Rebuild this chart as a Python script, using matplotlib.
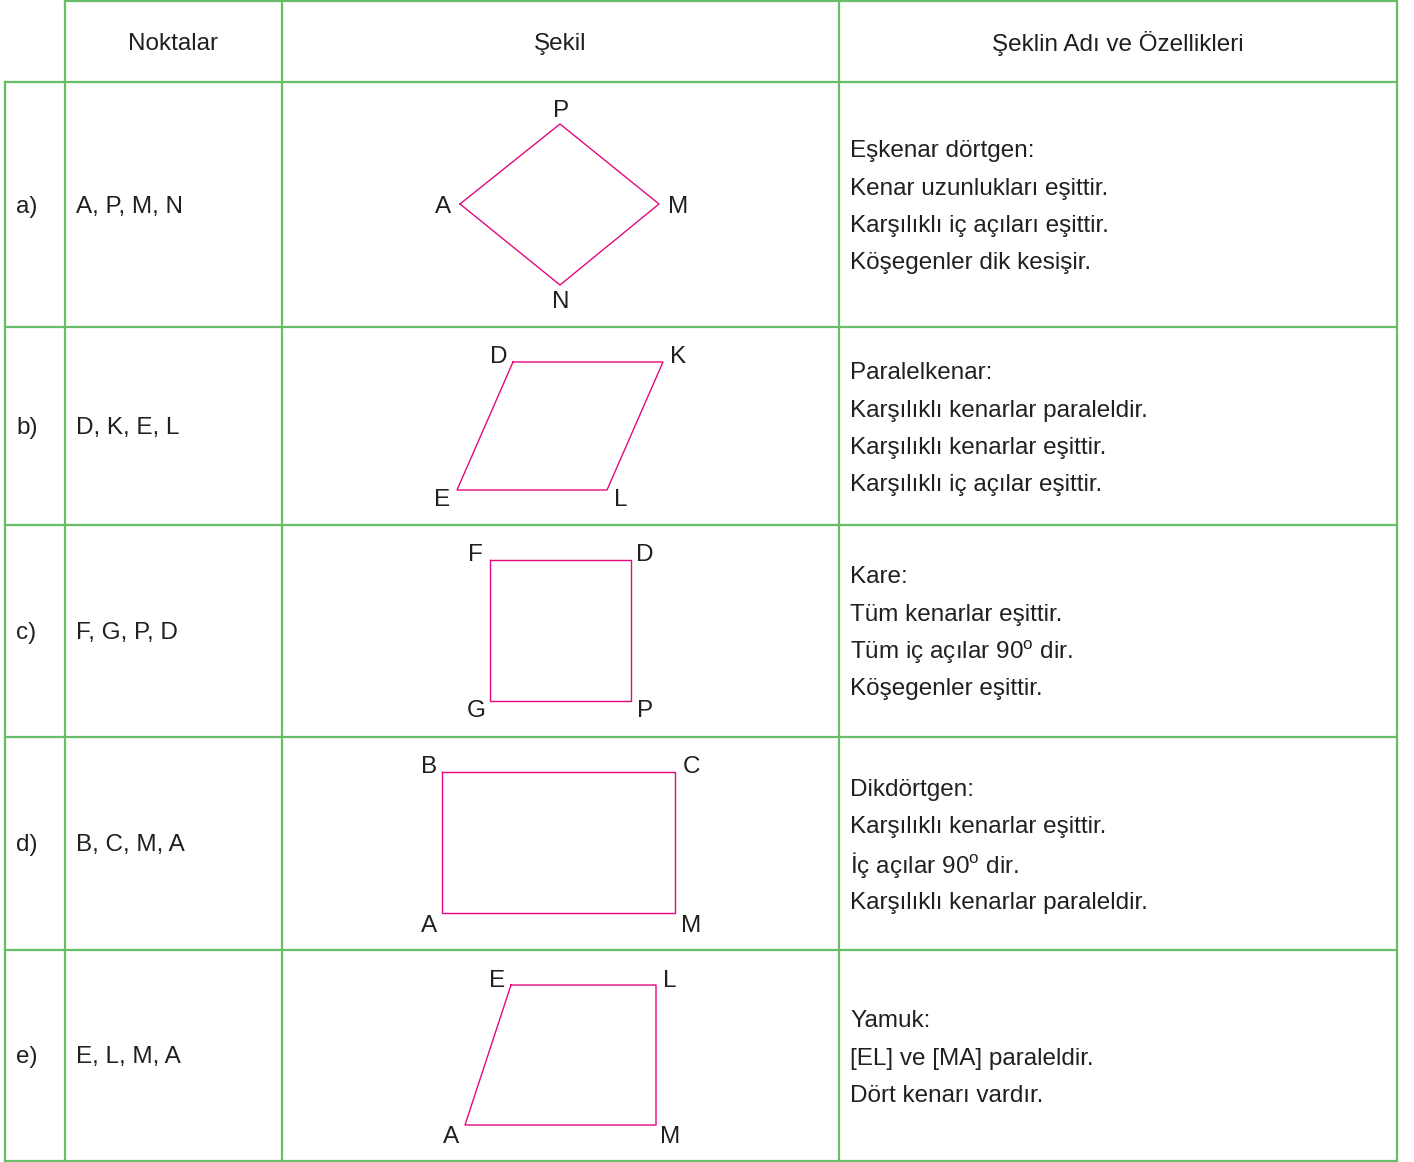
import matplotlib.pyplot as plt
import numpy as np

plt.rcParams['font.family'] = ['Liberation Sans', 'DejaVu Sans']
plt.rcParams['mathtext.fontset'] = 'custom'
plt.rcParams['mathtext.rm'] = 'Liberation Sans'

W, H = 1414, 1162
green = '#66bf66'
pink = '#e5087e'
ink = '#231f20'
fs = 17.5
dy = 2  # small nudge so glyphs sit like the reference

headers = ['Noktalar', 'Şekil', 'Şeklin Adı ve Özellikleri']
row_labels = ['a)', 'b)', 'c)', 'd)', 'e)']
point_lists = ['A, P, M, N', 'D, K, E, L', 'F, G, P, D', 'B, C, M, A', 'E, L, M, A']

# shape vertices and their letters (pixel coords of the page)
shapes = [
    [(460, 204), (560, 124), (659, 204), (560, 285)],
    [(513, 362), (663, 362), (607, 490), (457, 490)],
    [(490, 560), (631, 560), (631, 701), (490, 701)],
    [(442, 772), (675, 772), (675, 913), (442, 913)],
    [(511, 985), (656, 985), (656, 1125), (465, 1125)],
]
shape_letters = [
    [('A', 443, 205), ('P', 561, 109), ('M', 678, 205), ('N', 561, 300)],
    [('D', 499, 355), ('K', 678, 355), ('L', 621, 498), ('E', 442, 498)],
    [('F', 475, 553), ('D', 645, 553), ('P', 645, 709), ('G', 476, 709)],
    [('B', 429, 765), ('C', 691, 765), ('M', 691, 924), ('A', 429, 924)],
    [('E', 497, 979), ('L', 670, 979), ('M', 670, 1135), ('A', 451, 1135)],
]
sup = r'$^{\mathregular{o}}$'
descriptions = [
    ['Eşkenar dörtgen:', 'Kenar uzunlukları eşittir.', 'Karşılıklı iç açıları eşittir.',
     'Köşegenler dik kesişir.'],
    ['Paralelkenar:', 'Karşılıklı kenarlar paraleldir.', 'Karşılıklı kenarlar eşittir.',
     'Karşılıklı iç açılar eşittir.'],
    ['Kare:', 'Tüm kenarlar eşittir.', 'Tüm iç açılar 90' + sup + ' dir.',
     'Köşegenler eşittir.'],
    ['Dikdörtgen:', 'Karşılıklı kenarlar eşittir.', 'İç açılar 90' + sup + ' dir.',
     'Karşılıklı kenarlar paraleldir.'],
    ['Yamuk:', '[EL] ve [MA] paraleldir.', 'Dört kenarı vardır.'],
]

# table grid
col_x = [5, 65, 282, 839, 1397]
row_y = [1, 82, 327, 525, 737, 950, 1161]
desc_top = [149, 371, 575, 788, 1019]
line_gap = 37.5

fig = plt.figure(figsize=(W / 100, H / 100), dpi=100)
ax = fig.add_axes([0, 0, 1, 1])
ax.set_xlim(0, W)
ax.set_ylim(H, 0)
ax.axis('off')

lw = 1.6
ax.plot([col_x[1], col_x[-1]], [row_y[0], row_y[0]], color=green, lw=lw)
for y in row_y[1:]:
    ax.plot([col_x[0], col_x[-1]], [y, y], color=green, lw=lw)
ax.plot([col_x[0], col_x[0]], [row_y[1], row_y[-1]], color=green, lw=lw)
for x in col_x[1:]:
    ax.plot([x, x], [row_y[0], row_y[-1]], color=green, lw=lw)

for i, h in enumerate(headers):
    cx = (col_x[i + 1] + col_x[i + 2]) / 2
    ax.text(cx, 42 + dy, h, ha='center', va='center', fontsize=fs, color=ink)

for i in range(len(row_labels)):
    cy = (row_y[i + 1] + row_y[i + 2]) / 2
    ax.text(16, cy + dy, row_labels[i], ha='left', va='center', fontsize=fs, color=ink)
    ax.text(76, cy + dy, point_lists[i], ha='left', va='center', fontsize=fs, color=ink)

    pts = np.array(shapes[i] + [shapes[i][0]])
    ax.plot(pts[:, 0], pts[:, 1], color=pink, lw=1.0)
    for name, lx, ly in shape_letters[i]:
        ax.text(lx, ly + dy, name, ha='center', va='center', fontsize=fs, color=ink)

    for j, line in enumerate(descriptions[i]):
        ax.text(850, desc_top[i] + j * line_gap + dy, line, ha='left', va='center',
                fontsize=fs, color=ink)

fig.savefig('out.png', dpi=100, facecolor='white')
